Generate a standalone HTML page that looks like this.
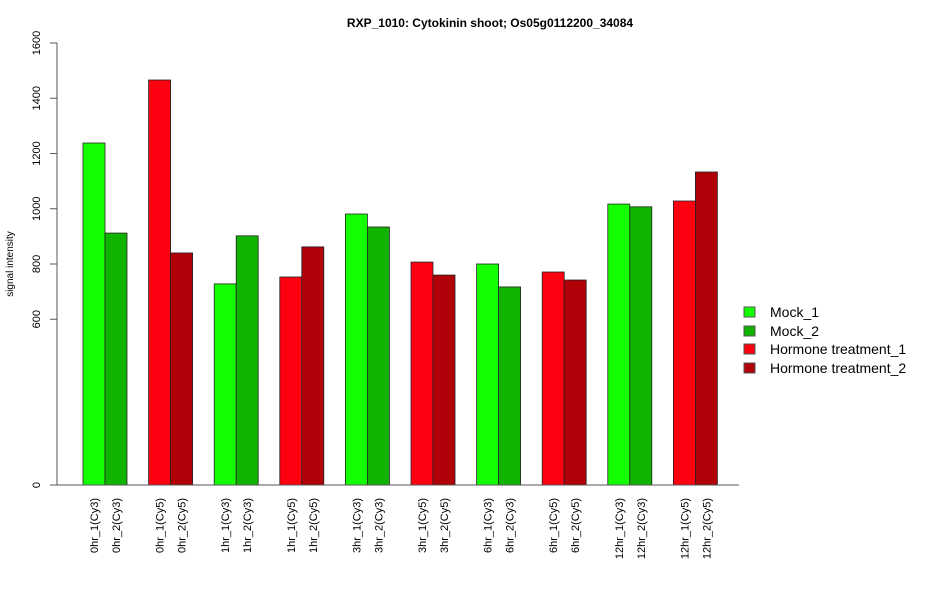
<!DOCTYPE html>
<html><head><meta charset="utf-8"><style>body{margin:0;background:#fff}svg{display:block;font-family:"Liberation Sans",Arial,sans-serif}</style></head>
<body>
<svg id="chart" width="950" height="600">
<text x="490" y="27" text-anchor="middle" font-size="12" font-weight="bold">RXP_1010: Cytokinin shoot; Os05g0112200_34084</text>
<text transform="translate(13,264) rotate(-90)" text-anchor="middle" font-size="10">signal intensity</text>
<g id="yaxis"></g>
<g id="bars"></g>
<g id="xlabels"></g>
<line x1="50" y1="485" x2="739" y2="485" stroke="#555"/>
<g font-size="14">
<g><rect x="744" y="307" width="11" height="10" fill="#14ff00" stroke="#555"/><text x="770" y="317">Mock_1</text></g>
<g><rect x="744" y="326" width="11" height="10" fill="#10b400" stroke="#555"/><text x="770" y="336">Mock_2</text></g>
<g><rect x="744" y="344" width="11" height="10" fill="#ff0010" stroke="#555"/><text x="770" y="354">Hormone treatment_1</text></g>
<g><rect x="744" y="363" width="11" height="10" fill="#b00008" stroke="#555"/><text x="770" y="373">Hormone treatment_2</text></g>
</g>
</svg>
<script>
const categories=["0hr_1(Cy3)","0hr_2(Cy3)","0hr_1(Cy5)","0hr_2(Cy5)","1hr_1(Cy3)","1hr_2(Cy3)","1hr_1(Cy5)","1hr_2(Cy5)","3hr_1(Cy3)","3hr_2(Cy3)","3hr_1(Cy5)","3hr_2(Cy5)","6hr_1(Cy3)","6hr_2(Cy3)","6hr_1(Cy5)","6hr_2(Cy5)","12hr_1(Cy3)","12hr_2(Cy3)","12hr_1(Cy5)","12hr_2(Cy5)"];
const values=[1238,912,1466,840,728,902,753,862,981,934,807,760,800,717,771,742,1017,1007,1028,1133];
const seriesIndex=[0,1,2,3,0,1,2,3,0,1,2,3,0,1,2,3,0,1,2,3];
const yTicks=[0,600,800,1000,1200,1400,1600];
const colors=["#14ff00","#10b400","#ff0010","#b00008"];
const NS="http://www.w3.org/2000/svg";
function y(v){return 485-v*(442/1600);}
function x(i){return 83+Math.floor(i/2)*65.6+(i%2)*22;}
const ya=document.getElementById('yaxis');
let l=document.createElementNS(NS,'line');
l.setAttribute('x1',57);l.setAttribute('x2',57);l.setAttribute('y1',y(0));l.setAttribute('y2',y(1600));l.setAttribute('stroke','#555');


ya.appendChild(l);
yTicks.forEach(t=>{
 const tk=document.createElementNS(NS,'line');
 tk.setAttribute('x1',50);tk.setAttribute('x2',57);tk.setAttribute('y1',y(t));tk.setAttribute('y2',y(t));tk.setAttribute('stroke','#555');
 
 
 ya.appendChild(tk);
 const tx=document.createElementNS(NS,'text');
 tx.setAttribute('transform','translate(40,'+y(t)+') rotate(-90)');
 tx.setAttribute('text-anchor','middle');tx.setAttribute('font-size','11');
 tx.textContent=t;
 
 
 ya.appendChild(tx);
});
const bg=document.getElementById('bars'),xl=document.getElementById('xlabels');
values.forEach((v,i)=>{
 const r=document.createElementNS(NS,'rect');
 r.setAttribute('x',x(i));r.setAttribute('y',y(v));r.setAttribute('width',22);r.setAttribute('height',y(0)-y(v));
 r.setAttribute('fill',colors[seriesIndex[i]]);r.setAttribute('stroke','#222');r.setAttribute('stroke-width','0.8');
 
 
 bg.appendChild(r);
 const t=document.createElementNS(NS,'text');
 const cx=x(i)+11+4;
 t.setAttribute('transform','translate('+cx+',498) rotate(-90)');
 t.setAttribute('text-anchor','end');t.setAttribute('font-size','11');
 t.textContent=categories[i];
 
 
 xl.appendChild(t);
});
</script>
</body></html>
